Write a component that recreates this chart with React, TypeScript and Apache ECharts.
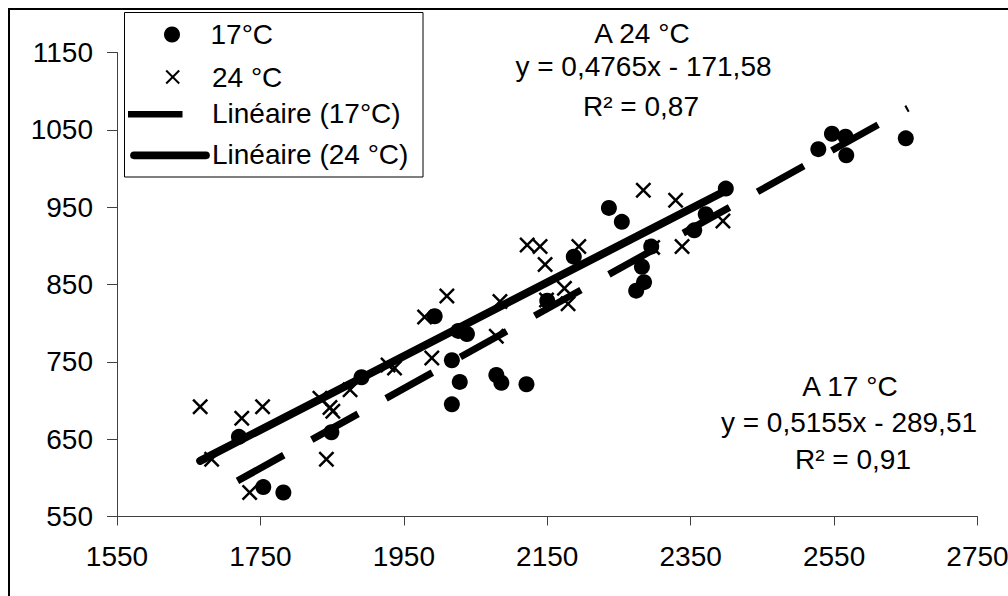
import React, { useEffect, useRef } from 'react';
import * as echarts from 'echarts';

const xTicks = [1550, 1750, 1950, 2150, 2350, 2550, 2750];
const yTicks = [550, 650, 750, 850, 950, 1050, 1150];

const seriesNames = ['17°C', '24 °C', 'Linéaire (17°C)', 'Linéaire (24 °C)'];

const points17: number[][] = [
  [1720, 653], [1754, 588], [1782, 581], [1849, 659], [1891, 730],
  [1993, 809], [2026, 790], [2038, 786], [2017, 752], [2028, 724],
  [2017, 695], [2079, 733], [2086, 723], [2121, 721], [2150, 829],
  [2187, 886], [2236, 949], [2254, 931], [2274, 842], [2285, 853],
  [2282, 873], [2295, 899], [2355, 920], [2371, 941], [2399, 974],
  [2528, 1025], [2547, 1045], [2566, 1041], [2567, 1017], [2650, 1039],
];

const points24: number[][] = [
  [1666, 692], [1682, 624], [1724, 677], [1735, 581], [1753, 692],
  [1833, 703], [1842, 624], [1847, 691], [1851, 686], [1875, 714],
  [1928, 746], [1937, 742], [1979, 808], [1989, 755], [2010, 835],
  [2079, 783], [2084, 828], [2122, 901], [2140, 899], [2147, 876],
  [2149, 830], [2174, 845], [2179, 825], [2194, 899], [2297, 898],
  [2284, 972], [2329, 959], [2338, 899], [2395, 932],
];

// trendline end points (as drawn)
const trend17: number[][] = [[1718, 596], [2653, 1078]];
const trend24: number[][] = [[1666, 622], [2396, 970]];

const note24 = ['A 24 °C', 'y = 0,4765x - 171,58', 'R² = 0,87'];
const note17 = ['A 17 °C', 'y = 0,5155x - 289,51', 'R² = 0,91'];

const FONT = '"Liberation Sans", Arial, sans-serif';
const FS = 28;
const X_PATH = 'path://M0,11L11,0L50,39L89,0L100,11L61,50L100,89L89,100L50,61L11,100L0,89L39,50Z';

function txt(text: string, x: number, y: number, align: string) {
  return {
    type: 'text',
    z: 100,
    style: {
      text,
      x,
      y,
      fontSize: FS,
      fontFamily: FONT,
      fill: '#000',
      align,
      verticalAlign: 'middle',
      textAlign: align,
      textVerticalAlign: 'middle',
    },
  };
}

export default function App() {
  const ref = useRef<HTMLDivElement>(null);
  useEffect(() => {
    if (!ref.current) return;
    const chart = echarts.init(ref.current, null, { renderer: 'svg' });
    const axisColor = '#404040';
    const legendRows = [34.5, 77, 113.5, 154.5];
    const option: any = {
      animation: false,
      backgroundColor: '#fff',
      grid: {
        left: 117,
        right: 30.5,
        top: 52.5,
        bottom: 79.5,
        containLabel: false,
        outerBoundsMode: 'none',
      },
      xAxis: {
        type: 'value',
        min: xTicks[0],
        max: xTicks[xTicks.length - 1],
        interval: xTicks[1] - xTicks[0],
        axisLine: { show: true, onZero: false, lineStyle: { color: axisColor, width: 1 } },
        axisTick: { show: true, inside: false, length: 9, lineStyle: { color: axisColor, width: 1 } },
        axisLabel: {
          show: true, margin: 26, fontSize: FS, fontFamily: FONT, color: '#000',
          formatter: (v: number) => String(v),
        },
        splitLine: { show: false },
      },
      yAxis: {
        type: 'value',
        min: yTicks[0],
        max: yTicks[yTicks.length - 1],
        interval: yTicks[1] - yTicks[0],
        axisLine: { show: true, onZero: false, lineStyle: { color: axisColor, width: 1 } },
        axisTick: { show: true, inside: false, length: 10, lineStyle: { color: axisColor, width: 1 } },
        axisLabel: {
          show: true, margin: 24, fontSize: FS, fontFamily: FONT, color: '#000',
          formatter: (v: number) => String(v),
        },
        splitLine: { show: false },
      },
      series: [
        {
          name: seriesNames[0],
          type: 'scatter',
          data: points17,
          symbol: 'circle',
          symbolSize: 16,
          itemStyle: { color: '#000', opacity: 1 },
          silent: true,
        },
        {
          name: seriesNames[1],
          type: 'scatter',
          data: points24,
          symbol: X_PATH,
          symbolSize: 16,
          itemStyle: { color: '#000', opacity: 1 },
          silent: true,
        },
        {
          name: seriesNames[2],
          type: 'line',
          data: trend17,
          symbol: 'none',
          lineStyle: { color: '#000', width: 7, type: [53, 32], cap: 'butt' },
          silent: true,
          z: 3,
        },
        {
          name: seriesNames[3],
          type: 'line',
          data: trend24,
          symbol: 'none',
          lineStyle: { color: '#000', width: 8, type: 'solid', cap: 'round' },
          silent: true,
          z: 3,
        },
      ],
      graphic: [
        // outer chart frame (top and left edges visible)
        { type: 'line', z: 100, shape: { x1: 8, y1: 9, x2: 1008, y2: 9 }, style: { stroke: '#000', lineWidth: 2 } },
        { type: 'line', z: 100, shape: { x1: 9, y1: 8, x2: 9, y2: 596 }, style: { stroke: '#000', lineWidth: 2 } },
        // legend box
        {
          type: 'rect',
          z: 90,
          shape: { x: 124.5, y: 12.5, width: 298.5, height: 164.5 },
          style: { fill: '#fff', stroke: '#000', lineWidth: 1 },
        },
        { type: 'circle', z: 100, shape: { cx: 172, cy: legendRows[0], r: 8 }, style: { fill: '#000' } },
        {
          type: 'line', z: 100,
          shape: { x1: 166.2, y1: legendRows[1] - 6.5, x2: 179.2, y2: legendRows[1] + 6.5 },
          style: { stroke: '#000', lineWidth: 2 },
        },
        {
          type: 'line', z: 100,
          shape: { x1: 179.2, y1: legendRows[1] - 6.5, x2: 166.2, y2: legendRows[1] + 6.5 },
          style: { stroke: '#000', lineWidth: 2 },
        },
        { type: 'rect', z: 100, shape: { x: 128, y: legendRows[2] - 3.2 + 0.7, width: 54.5, height: 6.4 }, style: { fill: '#000' } },
        {
          type: 'line', z: 100,
          shape: { x1: 134, y1: legendRows[3] + 0.8, x2: 206, y2: legendRows[3] + 0.8 },
          style: { stroke: '#000', lineWidth: 7.7, lineCap: 'round' },
        },
        txt(seriesNames[0], 210.5, legendRows[0], 'left'),
        txt(seriesNames[1], 212, legendRows[1], 'left'),
        txt(seriesNames[2], 212, legendRows[2], 'left'),
        txt(seriesNames[3], 212, legendRows[3], 'left'),
        // equation annotations
        txt(note24[0], 642, 33.5, 'center'),
        txt(note24[1], 643.5, 66.5, 'center'),
        txt(note24[2], 641, 106, 'center'),
        txt(note17[0], 850, 386, 'center'),
        txt(note17[1], 849, 422, 'center'),
        txt(note17[2], 853, 459, 'center'),
      ],
    };
    chart.setOption(option);
    return () => chart.dispose();
  }, []);
  return (
    <div
      ref={ref}
      style={{ position: 'fixed', left: 0, top: 0, width: 1008, height: 596, background: '#fff' }}
    />
  );
}
